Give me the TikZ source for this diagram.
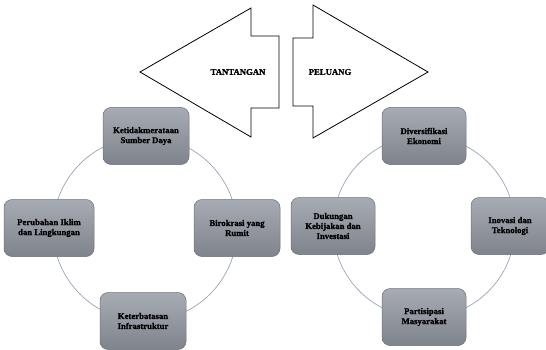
\documentclass[tikz,border=0pt]{standalone}
\usepackage{fontspec}
\setmainfont{Liberation Serif}[BoldFeatures={FakeBold=1.2}]
\usepackage{tikz}
\usetikzlibrary{calc,positioning}
\usepackage{xcolor}
\definecolor{boxtop}{HTML}{A7ACB4}
\definecolor{boxbot}{HTML}{7F848C}
\definecolor{boxline}{HTML}{6C7178}
\definecolor{ringline}{HTML}{8C9AAE}
\tikzset{
  factor/.style={
    draw=boxline,
    rectangle,
    rounded corners=8pt,
    minimum width=86pt,
    minimum height=57pt,
    inner sep=2pt,
    top color=boxtop,
    bottom color=boxbot,
    line width=0.5pt,
    align=center,
    font=\bfseries\fontsize{8.7}{10}\selectfont,
  },
  ring/.style={draw=ringline, line width=0.6pt},
  bigarrow/.style={draw=black, line width=0.8pt, fill=white},
  arrowlabel/.style={font=\bfseries\fontsize{8.7}{10}\selectfont},
}
\begin{document}
\begin{tikzpicture}[x=1pt,y=-1pt]
  \useasboundingbox (0,0) rectangle (546,350);
  \draw[bigarrow] (140,72) -- (251,8) -- (251,36) -- (279,36) -- (279,108)
    -- (251,108) -- (251,137) -- cycle;
  \draw[bigarrow] (428,72) -- (313,5) -- (313,38) -- (293,38) -- (293,106)
    -- (313,106) -- (313,138) -- cycle;
  \node[arrowlabel] (tantangan) at (238,72) {TANTANGAN};
  \node[arrowlabel] (peluang) at (330,72) {PELUANG};
  \coordinate (CT) at (145,229);
  \coordinate (CP) at (424,227);
  \draw[ring] (CT) circle[radius=92pt];
  \draw[ring] (CP) circle[radius=91pt];
  \node[factor] (T1) at (146,136) {Ketidakmerataan\\Sumber Daya};
  \node[factor] (T2) at (237,228) {Birokrasi yang\\Rumit};
  \node[factor] (T3) at (143,321) {Keterbatasan\\Infrastruktur};
  \node[factor, minimum width=90pt] (T4) at (49,228) {Perubahan Iklim\\dan Lingkungan};
  \node[factor, minimum width=84pt] (P1) at (424,136) {Diversifikasi\\Ekonomi};
  \node[factor, minimum width=78pt] (P2) at (510,226) {Inovasi dan\\Teknologi};
  \node[factor, minimum width=84pt] (P3) at (424,317) {Partisipasi\\Masyarakat};
  \node[factor, minimum width=84pt] (P4) at (333,226) {Dukungan\\Kebijakan dan\\Investasi};
\end{tikzpicture}
\end{document}
